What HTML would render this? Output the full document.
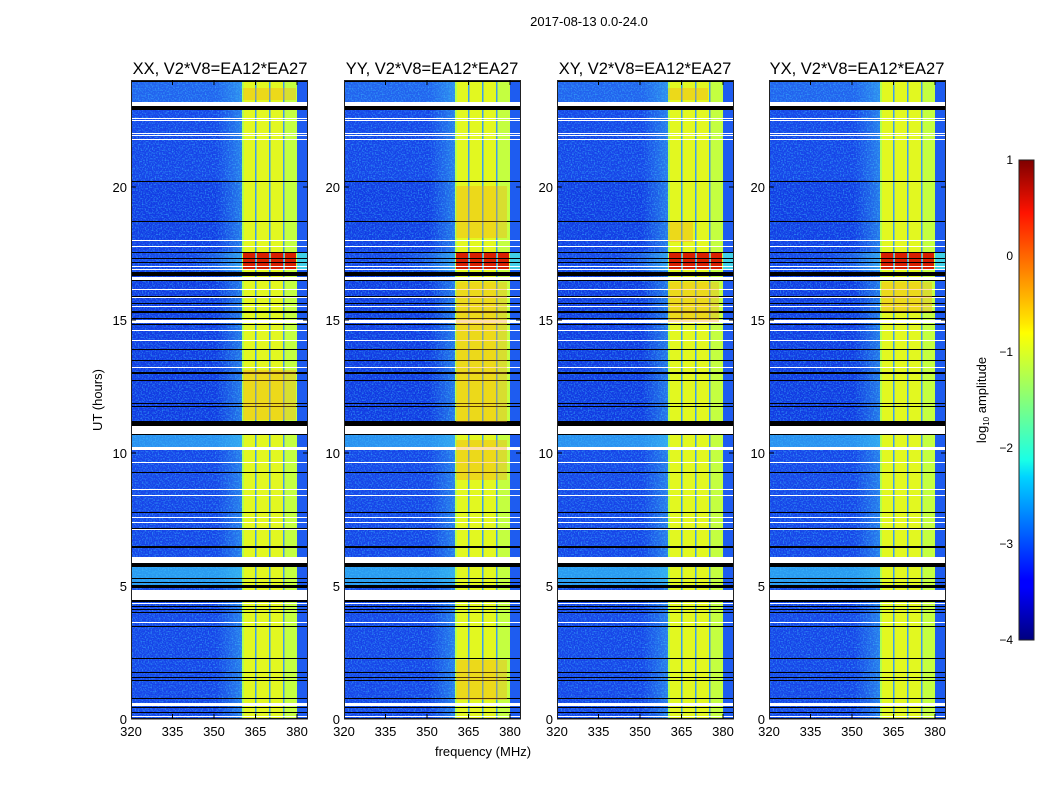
<!DOCTYPE html>
<html><head><meta charset="utf-8"><style>
html,body{margin:0;padding:0;background:#fff;}
svg{display:block;font-family:"Liberation Sans","DejaVu Sans",sans-serif;}
</style></head><body>
<svg width="1050" height="800" viewBox="0 0 1050 800" xmlns="http://www.w3.org/2000/svg">
<defs>
<filter id="nz" x="0" y="0" width="100%" height="100%">
<feTurbulence type="fractalNoise" baseFrequency="0.7" numOctaves="1" seed="3"/>
<feColorMatrix type="matrix" values="0 0 0 0 0.05  0 0 0 0 0.55  0 0 0 0 1  0 0 0 3.2 -1.45"/>
</filter>
<linearGradient id="jet" x1="0" y1="1" x2="0" y2="0">
<stop offset="0" stop-color="#00007f"/><stop offset="0.11" stop-color="#0000ff"/>
<stop offset="0.125" stop-color="#0000ff"/><stop offset="0.34" stop-color="#00d4ff"/>
<stop offset="0.375" stop-color="#1affe6"/><stop offset="0.64" stop-color="#ffff00"/>
<stop offset="0.66" stop-color="#ffe800"/><stop offset="0.89" stop-color="#ff1300"/>
<stop offset="1" stop-color="#7f0000"/>
</linearGradient>
<linearGradient id="fade" x1="0" x2="1" y1="0" y2="0">
<stop offset="0" stop-color="#40c0f0" stop-opacity="0"/><stop offset="1" stop-color="#40c8f0" stop-opacity="0.45"/>
</linearGradient>
<g id="panel">
<rect x="0" y="80" width="177" height="639" fill="#1744e8"/>
<rect x="0" y="80" width="177" height="22" fill="#2262ee"/>
<rect x="0" y="180" width="177" height="70" fill="#133ce4"/>
<rect x="0" y="275" width="177" height="145" fill="#123ae2"/>
<rect x="0" y="435" width="177" height="12" fill="#2a90f0"/>
<rect x="0" y="567" width="177" height="18" fill="#2a9af0"/>
<rect x="0" y="80" width="177" height="639" filter="url(#nz)" opacity="0.55"/>
<rect x="85" y="80" width="27" height="639" fill="url(#fade)"/>
<rect x="60" y="253" width="52" height="18" fill="url(#fade)"/>
<!-- band -->
<rect x="111" y="80" width="55" height="639" fill="#e2f820"/>
<rect x="111" y="80" width="2" height="639" fill="#b0ff50"/>
<rect x="124" y="80" width="1.5" height="639" fill="#3a9ef0"/>
<rect x="138" y="80" width="1.5" height="639" fill="#3a9ef0"/>
<rect x="152" y="80" width="1.5" height="639" fill="#3a9ef0"/>
<rect x="154" y="80" width="12" height="639" fill="#c4ff40"/>
<rect x="166" y="80" width="11" height="639" fill="#1e5cf0"/>
<g fill="#d82000">
<rect x="112" y="253" width="12" height="9"/><rect x="126" y="253" width="12" height="9"/><rect x="140" y="253" width="12" height="9"/><rect x="154" y="253" width="11" height="9"/>
<rect x="112" y="263" width="12" height="6"/><rect x="126" y="263" width="12" height="6"/><rect x="140" y="263" width="12" height="6"/><rect x="154" y="263" width="11" height="6"/>
</g>
<rect x="166" y="253" width="11" height="16" fill="#40d0e8"/>
<g fill="#fff">
<rect x="0" y="102" width="177" height="4"/>
<rect x="0" y="118" width="177" height="1"/><rect x="0" y="120" width="177" height="1"/>
<rect x="0" y="133" width="177" height="1"/><rect x="0" y="135" width="177" height="1"/><rect x="0" y="139" width="177" height="1"/>
<rect x="0" y="240" width="177" height="1"/><rect x="0" y="246" width="177" height="1"/>
<rect x="0" y="266" width="177" height="1"/><rect x="0" y="269" width="177" height="1"/>
<rect x="0" y="277" width="177" height="3"/>
<rect x="0" y="289" width="177" height="1"/><rect x="0" y="297" width="177" height="1"/><rect x="0" y="306" width="177" height="1"/>
<rect x="0" y="320" width="177" height="3"/><rect x="0" y="330" width="177" height="1"/><rect x="0" y="340" width="177" height="1"/><rect x="0" y="367" width="177" height="1"/>
<rect x="0" y="426" width="177" height="8"/>
<rect x="0" y="447" width="177" height="3"/><rect x="0" y="462" width="177" height="1"/><rect x="0" y="489" width="177" height="1"/><rect x="0" y="495" width="177" height="1"/>
<rect x="0" y="517" width="177" height="1"/><rect x="0" y="522" width="177" height="1"/><rect x="0" y="529" width="177" height="1"/>
<rect x="0" y="557" width="177" height="6"/>
<rect x="0" y="590" width="177" height="10"/>
<rect x="0" y="603" width="177" height="1"/><rect x="0" y="622" width="177" height="1"/>
<rect x="0" y="703" width="177" height="3"/><rect x="0" y="716" width="177" height="1"/>
</g>
<g fill="#000">
<rect x="0" y="81" width="177" height="1"/>
<rect x="0" y="106" width="177" height="4"/>
<rect x="0" y="181" width="177" height="1"/><rect x="0" y="221" width="177" height="1"/>
<rect x="0" y="252" width="177" height="1"/><rect x="0" y="258" width="177" height="1"/><rect x="0" y="262" width="177" height="1"/>
<rect x="0" y="272" width="177" height="4"/><rect x="0" y="280" width="177" height="1"/>
<rect x="0" y="296" width="177" height="1"/><rect x="0" y="303" width="177" height="1"/><rect x="0" y="311" width="177" height="2"/><rect x="0" y="318" width="177" height="1"/>
<rect x="0" y="324" width="177" height="1"/><rect x="0" y="349" width="177" height="1"/><rect x="0" y="360" width="177" height="1"/>
<rect x="0" y="372" width="177" height="2"/><rect x="0" y="380" width="177" height="1"/>
<rect x="0" y="403" width="177" height="1"/><rect x="0" y="406" width="177" height="1"/>
<rect x="0" y="421" width="177" height="5"/><rect x="0" y="434" width="177" height="1"/>
<rect x="0" y="472" width="177" height="1"/><rect x="0" y="512" width="177" height="1"/><rect x="0" y="528" width="177" height="1"/>
<rect x="0" y="546" width="177" height="2"/><rect x="0" y="563" width="177" height="4"/>
<rect x="0" y="578" width="177" height="1"/><rect x="0" y="582" width="177" height="1"/><rect x="0" y="585" width="177" height="3"/>
<rect x="0" y="600" width="177" height="2"/><rect x="0" y="606" width="177" height="1"/><rect x="0" y="609" width="177" height="1"/><rect x="0" y="612" width="177" height="1"/>
<rect x="0" y="626" width="177" height="1"/><rect x="0" y="658" width="177" height="1"/><rect x="0" y="672" width="177" height="1"/>
<rect x="0" y="677" width="177" height="1"/><rect x="0" y="680" width="177" height="1"/><rect x="0" y="698" width="177" height="1"/>
<rect x="0" y="707" width="177" height="1"/><rect x="0" y="712" width="177" height="1"/><rect x="0" y="718" width="177" height="1"/>
</g>
<rect x="0.5" y="80.5" width="176" height="638.5" fill="none" stroke="#222" stroke-width="1"/>
<g stroke="#000" stroke-width="1">
<line x1="41.5" y1="719" x2="41.5" y2="714"/><line x1="83" y1="719" x2="83" y2="714"/><line x1="124.5" y1="719" x2="124.5" y2="714"/><line x1="166" y1="719" x2="166" y2="714"/>
<line x1="41.5" y1="80" x2="41.5" y2="85"/><line x1="83" y1="80" x2="83" y2="85"/><line x1="124.5" y1="80" x2="124.5" y2="85"/><line x1="166" y1="80" x2="166" y2="85"/>
<line x1="0" y1="586" x2="5" y2="586"/><line x1="0" y1="453" x2="5" y2="453"/><line x1="0" y1="320" x2="5" y2="320"/><line x1="0" y1="187" x2="5" y2="187"/>
<line x1="177" y1="586" x2="172" y2="586"/><line x1="177" y1="453" x2="172" y2="453"/><line x1="177" y1="320" x2="172" y2="320"/><line x1="177" y1="187" x2="172" y2="187"/>
</g>
<g font-size="13" fill="#000" text-anchor="middle">
<text x="0" y="736">320</text><text x="41.5" y="736">335</text><text x="83" y="736">350</text><text x="124.5" y="736">365</text><text x="166" y="736">380</text>
</g>
<g font-size="13" fill="#000" text-anchor="end">
<text x="-4" y="724">0</text><text x="-4" y="591">5</text><text x="-4" y="458">10</text><text x="-4" y="325">15</text><text x="-4" y="192">20</text>
</g>
</g>
</defs>
<text x="589" y="26" font-size="13" text-anchor="middle">2017-08-13 0.0-24.0</text>

<use href="#panel" x="131" y="0"/>
<use href="#panel" x="344" y="0"/>
<use href="#panel" x="557" y="0"/>
<use href="#panel" x="769" y="0"/>

<g fill="#ffa010" opacity="0.35">
<rect x="456" y="186" width="51" height="52"/>
<rect x="456" y="282" width="51" height="140"/>
<rect x="456" y="440" width="51" height="40"/>
<rect x="668" y="88" width="40" height="12"/>
<rect x="668" y="222" width="25" height="20"/>
<rect x="668" y="282" width="51" height="40"/>
<rect x="243" y="88" width="53" height="12"/>
<rect x="243" y="370" width="53" height="50"/>
<rect x="881" y="282" width="51" height="30"/>
<rect x="456" y="660" width="51" height="40"/>
</g>

<g font-size="16.5" fill="#000" text-anchor="middle">
<text x="220" y="74">XX, V2*V8=EA12*EA27</text>
<text x="432" y="74">YY, V2*V8=EA12*EA27</text>
<text x="645" y="74">XY, V2*V8=EA12*EA27</text>
<text x="857" y="74">YX, V2*V8=EA12*EA27</text>
</g>
<text x="483" y="756" font-size="13" text-anchor="middle">frequency (MHz)</text>
<text transform="translate(102,400) rotate(-90)" font-size="13" text-anchor="middle">UT (hours)</text>

<rect x="1019" y="160" width="15" height="480" fill="url(#jet)" stroke="#222" stroke-width="1"/>
<g font-size="12" text-anchor="end" fill="#000">
<text x="1013" y="164">1</text><text x="1013" y="260">0</text><text x="1013" y="356">−1</text>
<text x="1013" y="452">−2</text><text x="1013" y="548">−3</text><text x="1013" y="644">−4</text>
</g>
<text transform="translate(986,400) rotate(-90)" font-size="13" text-anchor="middle">log<tspan font-size="8" dy="3">10</tspan><tspan dy="-3"> amplitude</tspan></text>
</svg>
</body></html>
